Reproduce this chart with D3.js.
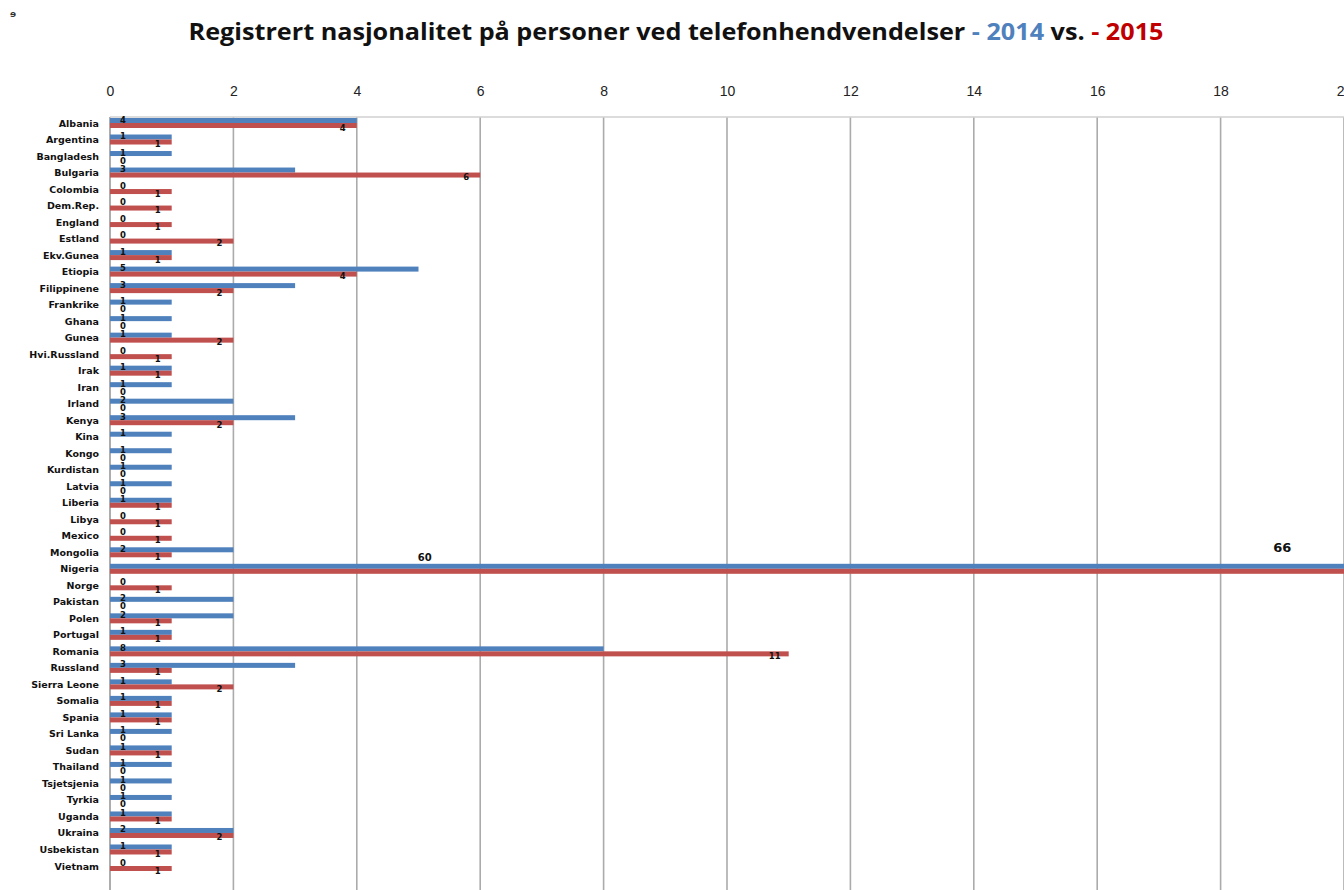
<!DOCTYPE html>
<html>
<head>
<meta charset="utf-8">
<script src="https://cdn.jsdelivr.net/npm/d3@7"></script>
<style>
  body { margin: 0; background: #fff; }
  svg { display: block; }
</style>
</head>
<body>
<div id="chart"></div>
<script>
const countries = ['Albania', 'Argentina', 'Bangladesh', 'Bulgaria', 'Colombia', 'Dem.Rep.', 'England', 'Estland',
  'Ekv.Gunea', 'Etiopia', 'Filippinene', 'Frankrike', 'Ghana', 'Gunea', 'Hvi.Russland', 'Irak', 'Iran', 'Irland',
  'Kenya', 'Kina', 'Kongo', 'Kurdistan', 'Latvia', 'Liberia', 'Libya', 'Mexico', 'Mongolia', 'Nigeria', 'Norge',
  'Pakistan', 'Polen', 'Portugal', 'Romania', 'Russland', 'Sierra Leone', 'Somalia', 'Spania', 'Sri Lanka', 'Sudan',
  'Thailand', 'Tsjetsjenia', 'Tyrkia', 'Uganda', 'Ukraina', 'Usbekistan', 'Vietnam'];

const values2014 = [4, 1, 1, 3, 0, 0, 0, 0, 1, 5, 3, 1, 1, 1, 0, 1, 1, 2, 3, 1, 1, 1, 1, 1, 0, 0, 2, 60, 0,
  2, 2, 1, 8, 3, 1, 1, 1, 1, 1, 1, 1, 1, 1, 2, 1, 0];

const values2015 = [4, 1, 0, 6, 1, 1, 1, 2, 1, 4, 2, 0, 0, 2, 1, 1, 0, 0, 2, null, 0, 0, 0, 1, 1, 1, 1, 66, 1,
  0, 1, 1, 11, 1, 2, 1, 1, 0, 1, 0, 0, 0, 1, 2, 1, 1];

const xTicks = [0, 2, 4, 6, 8, 10, 12, 14, 16, 18, 20];

const W = 1344, H = 890;
const blue = '#4f81bd', red = '#c0504d';

const svg = d3.select('#chart').append('svg')
  .attr('width', W)
  .attr('height', H);

const x = d3.scaleLinear().domain([0, 20]).range([110, 1344]);
const y = d3.scalePoint().domain(countries).range([123, 866]);

// title
const title = svg.append('text')
  .attr('x', 676)
  .attr('y', 40)
  .attr('text-anchor', 'middle')
  .attr('textLength', 975)
  .attr('lengthAdjust', 'spacingAndGlyphs')
  .style('font-family', '"Open Sans", sans-serif')
  .style('font-weight', 'bold')
  .style('font-size', '24px')
  .style('fill', '#111');
title.append('tspan').text('Registrert nasjonalitet på personer ved telefonhendvendelser ');
title.append('tspan').style('fill', blue).text('- 2014');
title.append('tspan').text(' vs. ');
title.append('tspan').style('fill', '#c00000').text('- 2015');

svg.append('text')
  .attr('x', 10)
  .attr('y', 17)
  .style('font-family', 'DejaVu Sans, sans-serif')
  .style('font-size', '9px')
  .style('font-weight', 'bold')
  .style('fill', '#333')
  .text('ɘ');

// grid + top axis
svg.append('g').selectAll('line')
  .data(xTicks)
  .enter().append('line')
  .attr('x1', d => x(d)).attr('x2', d => x(d))
  .attr('y1', 117).attr('y2', H)
  .style('stroke', d => d === 0 ? '#999' : '#ababab')
  .style('stroke-width', 1.6);

svg.append('line')
  .attr('x1', x(0)).attr('x2', W)
  .attr('y1', 117).attr('y2', 117)
  .style('stroke', '#d0d0d0')
  .style('stroke-width', 1.5);

const xAxis = d3.axisTop(x).tickValues(xTicks).tickSize(0).tickPadding(0);
const gx = svg.append('g')
  .attr('transform', 'translate(0,96)')
  .call(xAxis);
gx.select('.domain').remove();
gx.selectAll('text')
  .style('font-family', '"Liberation Sans", sans-serif')
  .style('font-size', '14px')
  .style('fill', '#222');

// country labels
svg.append('g').selectAll('text')
  .data(countries)
  .enter().append('text')
  .attr('x', 99)
  .attr('y', d => y(d) + 3.5)
  .attr('text-anchor', 'end')
  .style('font-family', '"DejaVu Sans", sans-serif')
  .style('font-weight', 'bold')
  .style('font-size', '9.5px')
  .style('fill', '#111')
  .text(d => d);

const rows = countries.map((c, i) => ({ c: c, a: values2014[i], b: values2015[i] }));

// bars
const bars = svg.append('g');
bars.selectAll('rect.b14')
  .data(rows)
  .enter().append('rect')
  .attr('class', 'b14')
  .attr('x', x(0))
  .attr('y', d => y(d.c) - 5)
  .attr('width', d => x(d.a) - x(0))
  .attr('height', 5)
  .style('fill', blue);

bars.selectAll('rect.b15')
  .data(rows.filter(d => d.b !== null))
  .enter().append('rect')
  .attr('class', 'b15')
  .attr('x', x(0))
  .attr('y', d => y(d.c))
  .attr('width', d => x(d.b) - x(0))
  .attr('height', 5)
  .style('fill', red);

// value labels
const labelStyle = function (sel) {
  sel.style('font-family', '"DejaVu Sans", sans-serif')
    .style('font-weight', 'bold')
    .style('font-size', '8.5px')
    .style('fill', '#111')
    .attr('text-anchor', 'middle');
};

const inRange = v => v <= x.domain()[1];

svg.append('g').selectAll('text')
  .data(rows.filter(d => inRange(d.a)))
  .enter().append('text')
  .attr('x', x(0) + 13)
  .attr('y', d => y(d.c) - 0.5)
  .text(d => d.a)
  .call(labelStyle);

svg.append('g').selectAll('text')
  .data(rows.filter(d => d.b !== null && inRange(d.b)))
  .enter().append('text')
  .attr('x', d => d.b === 0 ? x(0) + 13 : x(d.b) - 14)
  .attr('y', d => y(d.c) + 7.5)
  .text(d => d.b)
  .call(labelStyle);

// labels of the bars that run past the axis
const big = rows.filter(d => !inRange(d.a));
svg.append('g').selectAll('text')
  .data(big)
  .enter().append('text')
  .attr('x', x(5.1))
  .attr('y', d => y(d.c) - 8)
  .text(d => d.a)
  .call(labelStyle)
  .style('font-size', '10px');

svg.append('g').selectAll('text')
  .data(big)
  .enter().append('text')
  .attr('x', x(19))
  .attr('y', d => y(d.c) - 17)
  .text(d => d.b)
  .call(labelStyle)
  .style('font-size', '13px');
</script>
</body>
</html>
